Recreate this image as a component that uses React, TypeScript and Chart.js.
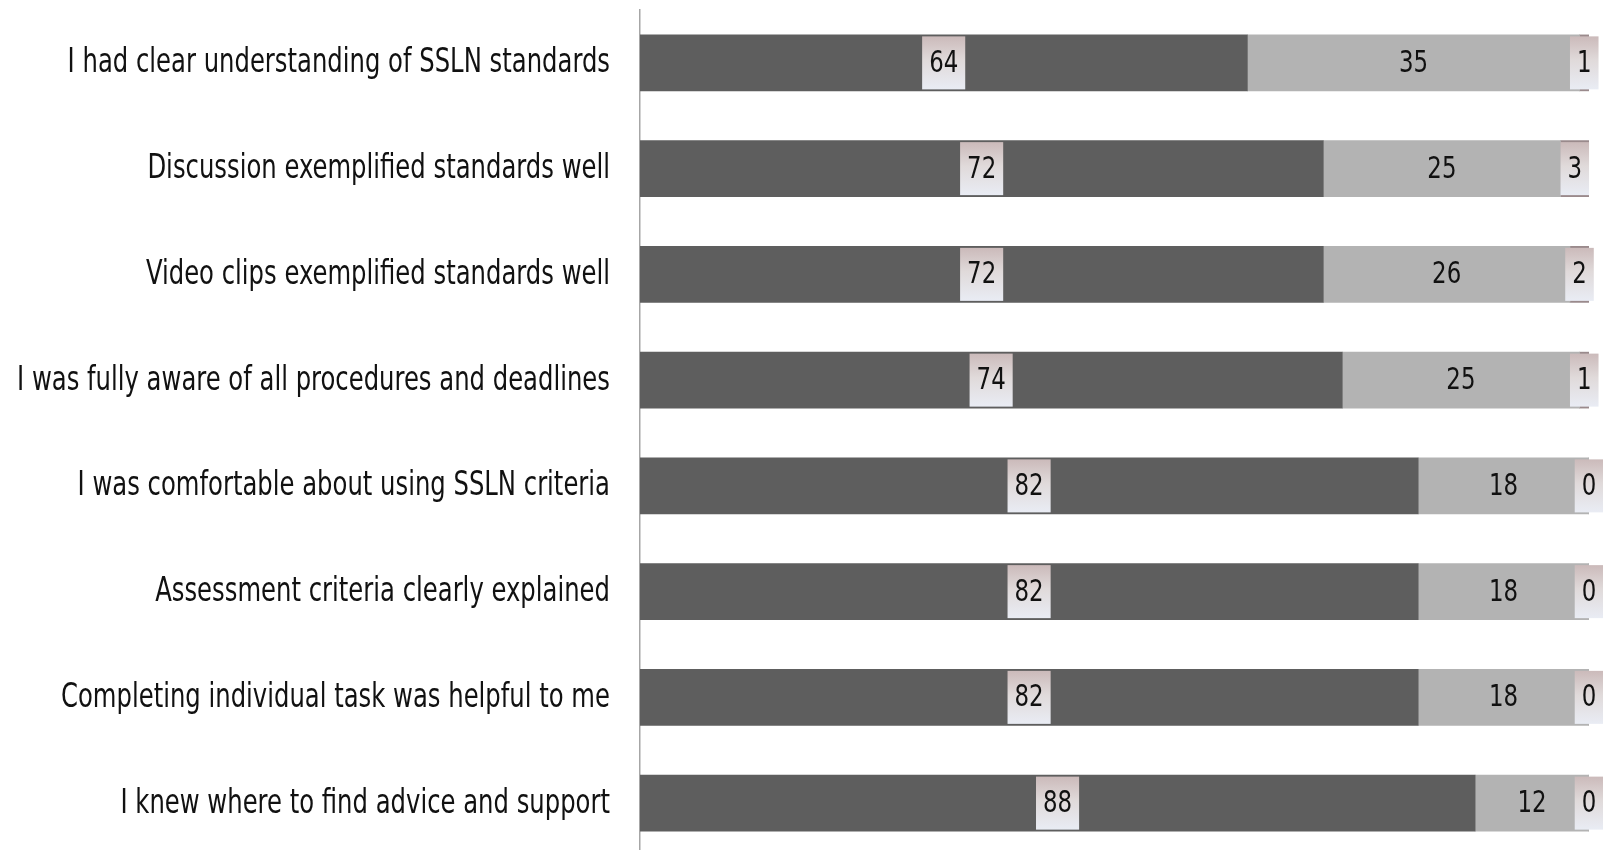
import React, { useEffect, useRef } from "react";
import { Chart, registerables } from "chart.js";

Chart.register(...registerables);

const categories = [
  "I had clear understanding of SSLN standards",
  "Discussion exemplified standards well",
  "Video clips exemplified standards well",
  "I was fully aware of all procedures and deadlines",
  "I was comfortable about using SSLN criteria",
  "Assessment criteria clearly explained",
  "Completing individual task was helpful to me",
  "I knew where to find advice and support",
];
const agreeValues = [64, 72, 72, 74, 82, 82, 82, 88];
const neutralValues = [35, 25, 26, 25, 18, 18, 18, 12];
const disagreeValues = [1, 3, 2, 1, 0, 0, 0, 0];

const FONT = '"Liberation Sans Narrow", "DejaVu Sans Condensed", "Arial Narrow", sans-serif';
const CAT_SIZE = 33;
const VAL_SIZE = 31;
const VAL_SX = 0.82;

function measure(text: string, size: number): number {
  const c = document.createElement("canvas");
  const ctx = c.getContext("2d")!;
  ctx.font = `${size}px ${FONT}`;
  return ctx.measureText(text).width;
}

const labelPlugin = {
  id: "valueLabels",
  afterDatasetsDraw(chart: any) {
    const ctx = chart.ctx;
    ctx.save();
    ctx.font = `${VAL_SIZE}px ${FONT}`;
    ctx.textAlign = "center";
    ctx.textBaseline = "middle";
    chart.data.datasets.forEach((ds: any, di: number) => {
      const meta = chart.getDatasetMeta(di);
      meta.data.forEach((el: any, i: number) => {
        const v = ds.data[i];
        const cx = (el.x + el.base) / 2;
        const cy = el.y;
        const txt = String(v);
        const tw = ctx.measureText(txt).width * VAL_SX;
        if (di !== 1) {
          const bw = tw + 14;
          const bh = el.height - 3;
          const g = ctx.createLinearGradient(0, cy - bh / 2, 0, cy + bh / 2);
          g.addColorStop(0, "#cbbaba");
          g.addColorStop(0.45, "#e0dada");
          g.addColorStop(1, "#e9ecf4");
          ctx.fillStyle = g;
          ctx.fillRect(cx - bw / 2, cy - bh / 2, bw, bh);
        }
        ctx.fillStyle = "#111";
        ctx.save();
        ctx.translate(cx, cy + 1);
        ctx.scale(VAL_SX, 1);
        ctx.fillText(txt, 0, 0);
        ctx.restore();
      });
    });
    // category labels
    const yScale = chart.scales.y;
    const right = chart.chartArea.left - 30;
    const longest = Math.max(...categories.map((c) => measure(c, CAT_SIZE)));
    const sx = 593 / longest;
    ctx.font = `${CAT_SIZE}px ${FONT}`;
    ctx.textAlign = "right";
    ctx.textBaseline = "middle";
    ctx.fillStyle = "#111";
    chart.data.labels.forEach((lab: string, i: number) => {
      const y = yScale.getPixelForValue(i);
      ctx.save();
      ctx.translate(right, y + 1);
      ctx.scale(sx, 1);
      ctx.fillText(lab, 0, 0);
      ctx.restore();
    });
    ctx.restore();
  },
};

export default function App() {
  const ref = useRef<HTMLCanvasElement>(null);
  useEffect(() => {
    const chart = new Chart(ref.current!, {
      type: "bar",
      data: {
        labels: categories,
        datasets: [
          { label: "Agree", data: agreeValues, backgroundColor: "#5e5e5e", barThickness: 56 },
          { label: "Neutral", data: neutralValues, backgroundColor: "#b3b3b3", barThickness: 56 },
          { label: "Disagree", data: disagreeValues, backgroundColor: "#9a8a8c", barThickness: 56 },
        ],
      },
      options: {
        indexAxis: "y",
        animation: false,
        responsive: false,
        maintainAspectRatio: false,
        layout: { padding: { top: 2, right: 14, bottom: 1, left: 0 } },
        plugins: {
          legend: { display: false },
          tooltip: { enabled: false },
        },
        scales: {
          x: {
            stacked: true,
            min: 0,
            max: 100,
            display: false,
          },
          y: {
            stacked: true,
            grid: { display: false, drawTicks: false },
            border: { display: true, color: "#a6a6a6", width: 1.5 },
            ticks: { display: false },
            afterFit: (scale: any) => {
              scale.width = 632;
              scale.paddingTop = 0;
              scale.paddingBottom = 0;
            },
          },
        },
      },
      plugins: [labelPlugin],
    });
    return () => chart.destroy();
  }, []);
  return (
    <div
      style={{
        position: "fixed",
        left: 8,
        top: 8,
        width: 1595,
        height: 842,
        overflow: "hidden",
      }}
    >
      <canvas ref={ref} width={1595} height={849} style={{ display: "block" }} />
    </div>
  );
}
